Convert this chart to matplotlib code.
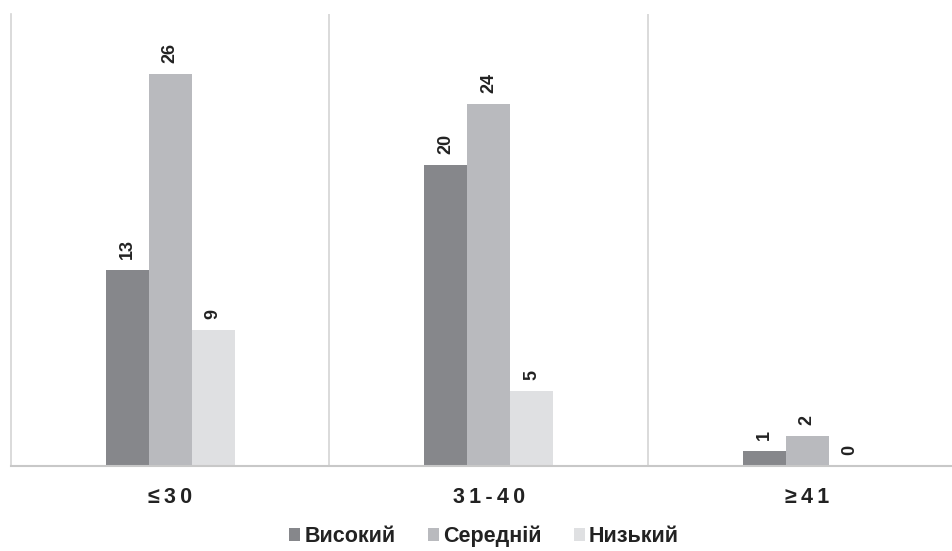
import matplotlib
matplotlib.use("Agg")
import matplotlib.pyplot as plt
import numpy as np

plt.rcParams['font.family'] = ['Liberation Sans', 'DejaVu Sans']

categories = ["≤30", "31-40", "≥41"]
series_names = ["Високий", "Середній", "Низький"]
high = [13, 20, 1]
medium = [26, 24, 2]
low = [9, 5, 0]
colors = ["#86878b", "#b9babe", "#dfe0e2"]

W, H = 953, 551
fig = plt.figure(figsize=(W / 100, H / 100), dpi=100)
left_px, top_px, base_px, group_px = 11, 14, 466, 318.5
ax = fig.add_axes([left_px / W, (H - base_px) / H, 3 * group_px / W, (base_px - top_px) / H])

x = np.arange(len(categories))
bw = 0.135
for i, (vals, c) in enumerate(zip([high, medium, low], colors)):
    bars = ax.bar(x + (i - 1) * bw, vals, width=bw, color=c, label=series_names[i], zorder=2)
    for b, v in zip(bars, vals):
        ax.annotate(str(v), (b.get_x() + b.get_width() / 2, v), xytext=(0, 8),
                    textcoords="offset points", rotation=90, ha="center", va="bottom",
                    fontsize=13, fontweight="bold", color="#222222")

ax.set_xlim(-0.5, 2.5)
ax.set_ylim(0, 30)
for xs in [0.5, 1.5]:
    ax.axvline(xs, color="#d4d4d4", lw=1.2, zorder=1)
for s in ["top", "right"]:
    ax.spines[s].set_visible(False)
ax.spines["left"].set_color("#d4d4d4")
ax.spines["left"].set_linewidth(1.2)
ax.spines["bottom"].set_color("#c8c8c8")
ax.spines["bottom"].set_linewidth(1.5)
ax.set_yticks([])
ax.set_xticks(x)
ax.set_xticklabels(["\u2009".join(c) for c in categories], fontsize=15.5, fontweight="bold", color="#222222")
ax.tick_params(axis="x", length=0, pad=15)

handles, labels = ax.get_legend_handles_labels()
fig.legend(handles, labels, loc="lower center", bbox_to_anchor=(0.508, -0.028), ncol=3, frameon=False,
           prop={"size": 15.5, "weight": "bold"}, handlelength=0.5, handleheight=0.5,
           handletextpad=0.2, columnspacing=1.5, labelcolor="#222222")

fig.savefig("out.png", dpi=100)
